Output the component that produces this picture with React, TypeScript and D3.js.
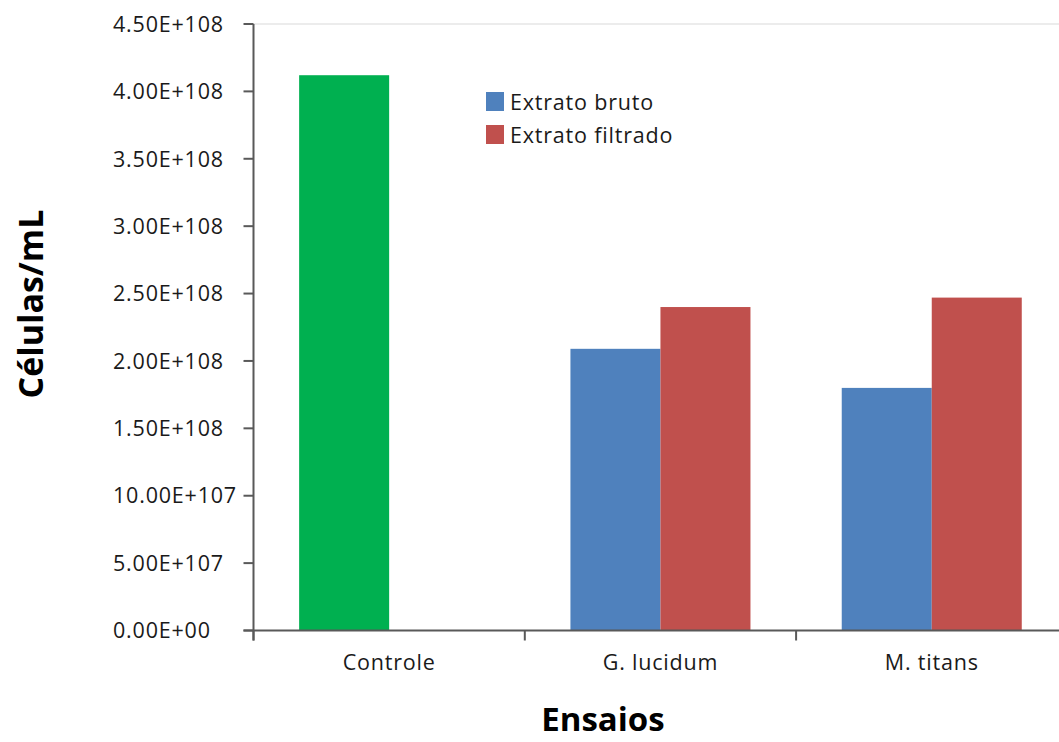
import React, { useEffect, useRef } from 'react';
import * as d3 from 'd3';

const categories = ['Controle', 'G. lucidum', 'M. titans'];
const seriesNames = ['Extrato bruto', 'Extrato filtrado'];
const brutoValues = [4.12e8, 2.09e8, 1.8e8];
const filtradoValues: (number | null)[] = [null, 2.4e8, 2.47e8];
const seriesColors = ['#4F81BD', '#C0504D'];
const controlColor = '#00B050';
const yTickValues = [0, 0.5e8, 1e8, 1.5e8, 2e8, 2.5e8, 3e8, 3.5e8, 4e8, 4.5e8];
const yTickLabels = [
  '0.00E+00', '5.00E+107', '10.00E+107', '1.50E+108', '2.00E+108',
  '2.50E+108', '3.00E+108', '3.50E+108', '4.00E+108', '4.50E+108',
];

const FONT = '"Open Sans", "Noto Sans", sans-serif';

export default function App() {
  const svgRef = useRef<SVGSVGElement>(null);

  useEffect(() => {
    if (!svgRef.current) return;
    const svg = d3.select(svgRef.current);
    svg.selectAll('*').remove();

    const left = 253.5;
    const step = 271.3;
    const top = 24;
    const bottom = 630.5;

    const x0 = d3.scaleBand()
      .domain(categories)
      .range([left, left + step * categories.length])
      .padding(0);

    const x1 = d3.scaleBand()
      .domain(seriesNames)
      .range([0, x0.bandwidth()])
      .paddingInner(0)
      .paddingOuter(0.507);

    const y = d3.scaleLinear().domain([0, 4.5e8]).range([bottom, top]);

    // top border of plot area
    svg.append('line')
      .attr('x1', left).attr('x2', 1059)
      .attr('y1', top).attr('y2', top)
      .attr('stroke', '#d9d9d9').attr('stroke-width', 1);

    // bars
    const rows = categories.map((c, i) => ({
      cat: c,
      vals: [brutoValues[i], filtradoValues[i]],
    }));

    const groups = svg.append('g').selectAll('g')
      .data(rows)
      .enter()
      .append('g')
      .attr('transform', d => `translate(${x0(d.cat)},0)`);

    groups.selectAll('rect')
      .data(d => d.vals.map((v, j) => ({ cat: d.cat, series: seriesNames[j], v, j })).filter(e => e.v != null))
      .enter()
      .append('rect')
      .attr('x', d => x1(d.series) || 0)
      .attr('y', d => y(d.v as number))
      .attr('width', x1.bandwidth())
      .attr('height', d => bottom - y(d.v as number))
      .attr('fill', d => (d.cat === 'Controle' ? controlColor : seriesColors[d.j]));

    // Y axis
    const axisColor = '#595959';
    svg.append('line')
      .attr('x1', left).attr('x2', left)
      .attr('y1', top).attr('y2', bottom + 10)
      .attr('stroke', axisColor).attr('stroke-width', 2);

    svg.append('g').selectAll('line')
      .data(yTickValues)
      .enter()
      .append('line')
      .attr('x1', left - 10).attr('x2', left)
      .attr('y1', d => y(d)).attr('y2', d => y(d))
      .attr('stroke', axisColor).attr('stroke-width', 2);

    svg.append('g').selectAll('text')
      .data(yTickValues)
      .enter()
      .append('text')
      .attr('x', 113)
      .attr('y', d => y(d))
      .attr('dy', '0.36em')
      .attr('fill', '#1a1a1a')
      .style('font-family', FONT)
      .style('font-size', '21.5px')
      .style('letter-spacing', '0.8px')
      .text((d, i) => yTickLabels[i]);

    // X axis
    svg.append('line')
      .attr('x1', left - 10).attr('x2', 1059)
      .attr('y1', bottom).attr('y2', bottom)
      .attr('stroke', axisColor).attr('stroke-width', 2);

    const bounds = categories.map(c => (x0(c) || 0)).concat([x0.range()[1]]);
    svg.append('g').selectAll('line')
      .data(bounds)
      .enter()
      .append('line')
      .attr('x1', d => d).attr('x2', d => d)
      .attr('y1', bottom).attr('y2', bottom + 10)
      .attr('stroke', axisColor).attr('stroke-width', 2);

    svg.append('g').selectAll('text')
      .data(categories)
      .enter()
      .append('text')
      .attr('x', d => (x0(d) || 0) + x0.bandwidth() / 2)
      .attr('y', 670)
      .attr('text-anchor', 'middle')
      .attr('fill', '#1a1a1a')
      .style('font-family', FONT)
      .style('font-size', '21.5px')
      .style('letter-spacing', '0.8px')
      .text(d => d);

    // axis titles
    svg.append('text')
      .attr('x', 603)
      .attr('y', 731)
      .attr('text-anchor', 'middle')
      .attr('fill', '#000')
      .style('font-family', FONT)
      .style('font-size', '33px')
      .style('font-weight', 'bold')
      .text('Ensaios');

    svg.append('text')
      .attr('transform', 'translate(43,304) rotate(-90)')
      .attr('text-anchor', 'middle')
      .attr('fill', '#000')
      .style('font-family', FONT)
      .style('font-size', '34px')
      .style('font-weight', 'bold')
      .text('Células/mL');

    // legend
    const legend = svg.append('g').attr('transform', 'translate(486,92)');
    seriesNames.forEach((name, i) => {
      const row = legend.append('g').attr('transform', `translate(0,${i * 33})`);
      row.append('rect')
        .attr('width', 18).attr('height', 19)
        .attr('fill', seriesColors[i]);
      row.append('text')
        .attr('x', 24)
        .attr('y', 18)
        .attr('fill', '#1a1a1a')
        .style('font-family', FONT)
        .style('font-size', '21.5px')
        .style('letter-spacing', '0.8px')
        .text(name);
    });
  }, []);

  return (
    <div style={{ position: 'absolute', left: 0, top: 0, background: '#fff' }}>
      <svg ref={svgRef} width={1059} height={742} style={{ display: 'block' }} />
    </div>
  );
}
